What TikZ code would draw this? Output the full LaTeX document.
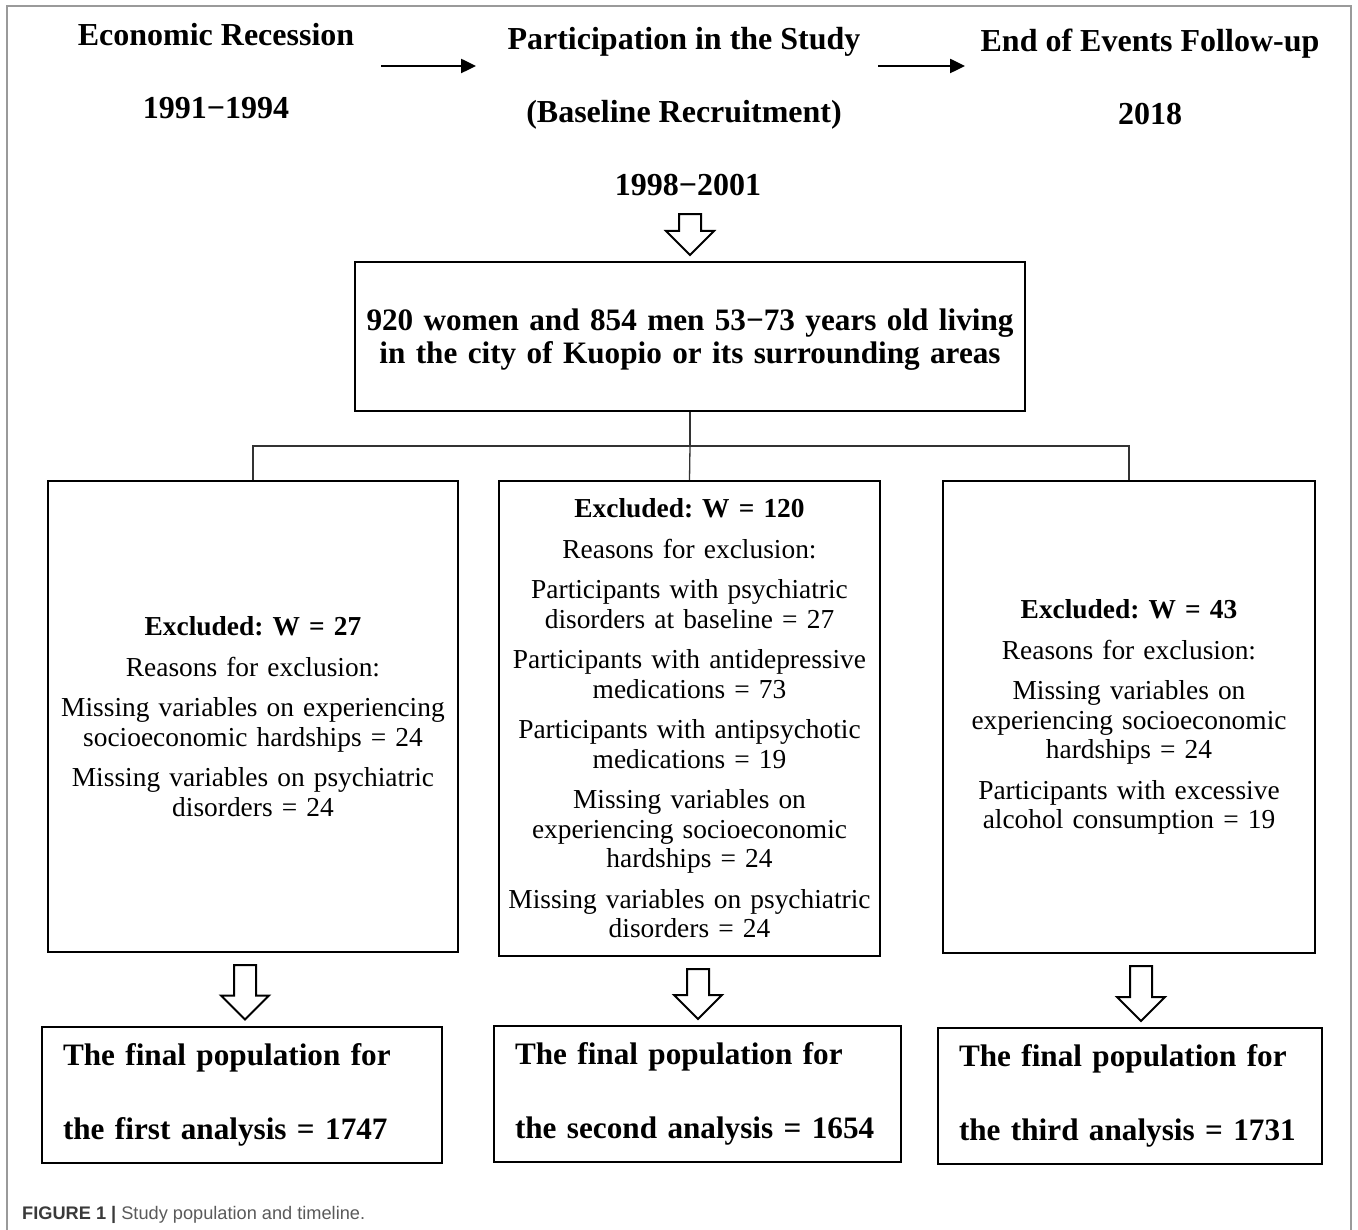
\documentclass[tikz,border=0pt]{standalone}
\usepackage{fontspec}
\setmainfont{Liberation Serif}
\newfontfamily\captionfont{Liberation Sans}
\usetikzlibrary{arrows.meta,calc}
\frenchspacing

\definecolor{framegray}{HTML}{9A9A9A}
\definecolor{linkgray}{HTML}{333333}
\definecolor{capdark}{HTML}{3A3A3A}
\definecolor{capgray}{HTML}{5A5A5A}

% hollow down arrow: x, from node, to node
\newcommand\hollowarrow[3]{%
  \draw[hollow] let \p1=(#2.south), \p2=(#3.north) in
    ({#1pt-11pt},{\y1-12pt}) -- ({#1pt+11pt},{\y1-12pt})
    -- ({#1pt+11pt},{\y2+30pt}) -- ({#1pt+24pt},{\y2+30pt})
    -- ({#1pt},{\y2+6pt}) -- ({#1pt-24pt},{\y2+30pt})
    -- ({#1pt-11pt},{\y2+30pt}) -- cycle;}

\begin{document}
\begin{tikzpicture}[
    x=1pt, y=-1pt,
    node distance=73pt,     % spacing of the timeline lines
    title/.style={font=\fontsize{32}{34}\selectfont\bfseries, text height=21pt, text depth=6pt, inner sep=0pt},
    box/.style={draw, line width=2pt, align=center, inner xsep=3pt},
    excl/.style={box, font=\fontsize{27.4}{29.5}\selectfont},
    final/.style={draw, line width=2pt, align=left, inner xsep=21pt, minimum height=136pt, font=\fontsize{31.2}{74}\selectfont\bfseries},
    link/.style={draw=linkgray, line width=1.3pt},
    hollow/.style={draw, line width=2pt, line join=miter, fill=white},
    timearrow/.style={-{Triangle[length=15pt,width=14pt]}, line width=2.5pt}]
    \useasboundingbox (0,0) rectangle (1358,1230);
    \draw[framegray, line width=1.5pt] (7,1230) -- (7,6) -- (1351,6) -- (1351,1230);

    % Timeline
    \node[title] (recession) at (216,38.5) {Economic Recession};
    \node[title] (recyears) [below of=recession] {1991−1994};
    \node[title] (participation) at (684,42.5) {Participation in the Study};
    \node[title] (baseline) [below of=participation] {(Baseline Recruitment)};
    \node[title] (period) [below of=baseline, xshift=4pt] {1998−2001};
    \node[title] (followup) at (1150,44.5) {End of Events Follow-up};
    \node[title] (endyear) [below of=followup] {2018};

    \coordinate (go1) at (381,66);
    \coordinate (to1) at (476,66);
    \coordinate (go2) at (878,66);
    \coordinate (to2) at (965,66);
    \draw[timearrow] (go1) -- (to1);
    \draw[timearrow] (go2) -- (to2);

    % Boxes
    \node[box, minimum width=670pt, minimum height=149pt, text width=664pt, text depth=34pt,
          font=\fontsize{31.2}{33}\selectfont\bfseries] (cohort) at (690,336.5)
        {\mbox{920 women and 854 men 53−73 years old living}\\ in the city of Kuopio or its surrounding areas};

    \node[excl, minimum width=410pt, minimum height=471pt, text width=404pt] (excl1) at (253,716.5)
        {\textbf{Excluded: W = 27}\\[11pt]
         Reasons for exclusion:\\[11pt]
         Missing variables on experiencing\\ socioeconomic hardships = 24\\[11pt]
         Missing variables on psychiatric\\ disorders = 24};
    \node[excl, minimum width=381pt, minimum height=475pt, text width=375pt] (excl2) at (689.5,718.5)
        {\textbf{Excluded: W = 120}\\[11pt]
         Reasons for exclusion:\\[11pt]
         Participants with psychiatric\\ disorders at baseline = 27\\[11pt]
         Participants with antidepressive\\ medications = 73\\[11pt]
         Participants with antipsychotic\\ medications = 19\\[11pt]
         Missing variables on\\ experiencing socioeconomic\\ hardships = 24\\[11pt]
         Missing variables on psychiatric\\ disorders = 24};
    \node[excl, minimum width=372pt, minimum height=472pt, text width=366pt] (excl3) at (1129,717)
        {\textbf{Excluded: W = 43}\\[11pt]
         Reasons for exclusion:\\[11pt]
         Missing variables on\\ experiencing socioeconomic\\ hardships = 24\\[11pt]
         Participants with excessive\\ alcohol consumption = 19};

    \node[final, text width=358pt] (final1) at (242,1094.5)
        {\mbox{The final population for}\\\mbox{the first analysis = 1747}};
    \node[final, text width=365pt] (final2) at (697.5,1094)
        {\mbox{The final population for}\\\mbox{the second analysis = 1654}};
    \node[final, text width=342pt] (final3) at (1130,1096)
        {\mbox{The final population for}\\\mbox{the third analysis = 1731}};

    % Edges
    \coordinate (split) at (690,446);
    \draw[link] (cohort.south) -- (split);
    \draw[link] (excl1.north) |- (split) -| (excl3.north);
    \draw[link] (split) -- (excl2.north);

    \hollowarrow{690}{period}{cohort}
    \hollowarrow{245}{excl1}{final1}
    \hollowarrow{698}{excl2}{final2}
    \hollowarrow{1141}{excl3}{final3}

    % Caption
    \node[anchor=base west, inner sep=0pt, font=\captionfont\fontsize{18.2}{20}\selectfont] (caption) at (22,1219.5)
        {\textcolor{capdark}{\bfseries FIGURE 1 |} \textcolor{capgray}{Study population and timeline.}};
\end{tikzpicture}
\end{document}
